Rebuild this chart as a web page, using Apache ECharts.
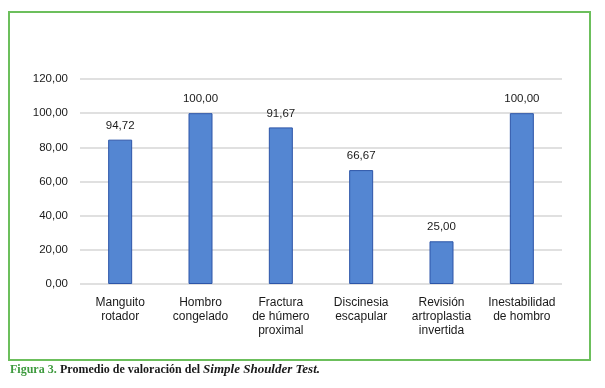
<!DOCTYPE html>
<html>
<head>
<meta charset="utf-8">
<script src="https://cdn.jsdelivr.net/npm/echarts@6/dist/echarts.min.js"></script>
<style>
html,body{margin:0;padding:0;background:#fff;}
#chart{width:605px;height:388px;}
</style>
</head>
<body>
<div id="chart"></div>
<script>
// Categories (x axis)
var categories = [
  'Manguito\nrotador',
  'Hombro\ncongelado',
  'Fractura\nde húmero\nproximal',
  'Discinesia\nescapular',
  'Revisión\nartroplastia\ninvertida',
  'Inestabilidad\nde hombro'
];
// Bar heights as drawn in the picture
var barValues = [84.5, 100, 91.67, 66.67, 25, 100];
// Value labels as printed above each bar
var valueLabels = ['94,72', '100,00', '91,67', '66,67', '25,00', '100,00'];
// Y axis ticks
var yTicks = [0, 20, 40, 60, 80, 100, 120];

var chart = echarts.init(document.getElementById('chart'), null, {renderer: 'canvas'});
var option = {
  backgroundColor: '#ffffff',
  animation: false,
  grid: {left: 80, right: 43, top: 79, bottom: 104, containLabel: false},
  xAxis: {
    type: 'category',
    data: categories,
    axisLine: {show: false},
    axisTick: {show: false},
    axisLabel: {
      interval: 0,
      margin: 12,
      color: '#1a1a1a',
      fontFamily: 'Liberation Sans, Arial, sans-serif',
      fontSize: 12,
      lineHeight: 14,
      align: 'center'
    }
  },
  yAxis: {
    type: 'value',
    min: yTicks[0],
    max: yTicks[yTicks.length - 1],
    interval: yTicks[1] - yTicks[0],
    axisLine: {show: false},
    axisTick: {show: false},
    splitLine: {lineStyle: {color: '#d6d6d6', width: 1.5}},
    axisLabel: {
      margin: 12,
      color: '#1a1a1a',
      fontFamily: 'Liberation Sans, Arial, sans-serif',
      fontSize: 11.5,
      formatter: function (v) { return v.toFixed(2).replace('.', ','); }
    }
  },
  series: [{
    type: 'bar',
    data: barValues,
    barWidth: 24,
    itemStyle: {color: '#5486d2', borderColor: '#2c55a8', borderWidth: 1},
    label: {
      show: true,
      position: 'top',
      distance: 8,
      color: '#1a1a1a',
      fontFamily: 'Liberation Sans, Arial, sans-serif',
      fontSize: 11.5,
      formatter: function (p) { return valueLabels[p.dataIndex]; }
    }
  }],
  graphic: [
    {
      type: 'rect',
      silent: true,
      shape: {x: 9, y: 12, width: 581, height: 348},
      style: {fill: 'none', stroke: '#6cbf5c', lineWidth: 2}
    },
    {
      type: 'text',
      left: 10,
      top: 363,
      style: {
        text: '{g|Figura 3.} {b|Promedio de valoración del }{i|Simple Shoulder Test.}',
        rich: {
          g: {fill: '#3d9a3d', fontFamily: 'Liberation Serif, serif', fontWeight: 'bold', fontSize: 12},
          b: {fill: '#1a1a1a', fontFamily: 'Liberation Serif, serif', fontWeight: 'bold', fontSize: 12},
          i: {fill: '#1a1a1a', fontFamily: 'Liberation Serif, serif', fontWeight: 'bold', fontStyle: 'italic', fontSize: 13}
        }
      }
    }
  ]
};
chart.setOption(option);
</script>
</body>
</html>
